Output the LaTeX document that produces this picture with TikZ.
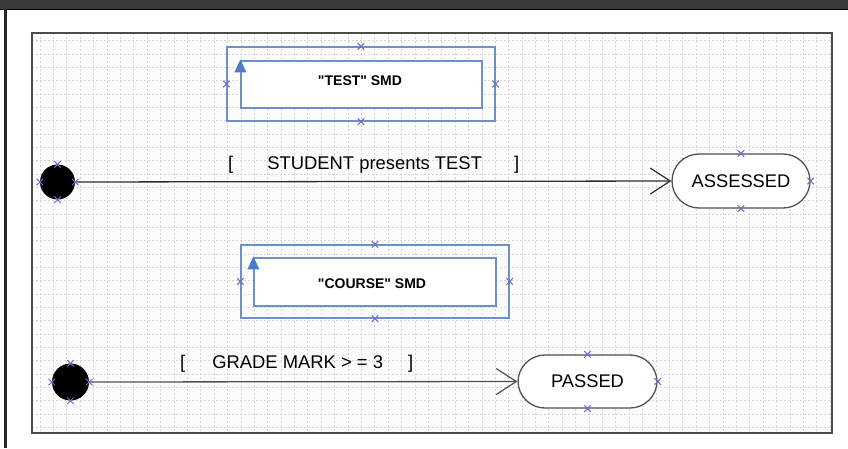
\documentclass[tikz,border=0pt]{standalone}
\usepackage{fontspec}
\setmainfont{Liberation Sans}
\usetikzlibrary{arrows.meta,shapes.misc}
\definecolor{barcol}{HTML}{3A3A3A}
\definecolor{gridcol}{HTML}{D6D6D6}
\definecolor{boxblue}{HTML}{6F8FC8}
\definecolor{triblue}{HTML}{4A7CC8}
\definecolor{mkcol}{HTML}{6E6EC4}
\definecolor{linecol}{HTML}{2E2E2E}
\definecolor{statecol}{HTML}{505050}
\tikzset{
  mk/.style={draw=mkcol,cross out,minimum size=5.5pt,inner sep=0pt,line width=1pt},
  smdouter/.style={draw=boxblue,line width=1.2pt,inner sep=0pt},
  smdinner/.style={draw=boxblue,fill=white,line width=1.2pt,inner sep=0pt},
  smdtext/.style={font=\fontsize{14}{16}\selectfont\bfseries,text=black},
  initstate/.style={circle,fill=black,inner sep=0pt},
  statebox/.style={draw=statecol,fill=white,line width=1.3pt,rounded corners=27pt,minimum width=138pt,minimum height=54pt,font=\fontsize{18.3}{20}\selectfont,text=black},
  guard/.style={font=\fontsize{18.4}{20}\selectfont,text=black,inner sep=0pt,anchor=west},
  trans/.style={draw=linecol,line width=1.3pt,-{Straight Barb[length=20pt,width=26pt,line width=1.2pt]}},
  tri/.style={fill=triblue,draw=none}
}
\begin{document}
\begin{tikzpicture}[x=1pt,y=-1pt]
\useasboundingbox (0,0) rectangle (848,448);
\fill[white] (0,0) rectangle (848,448);
% window chrome
\fill[barcol] (0,0) rectangle (848,9);
\draw[black,line width=1pt] (0,9) -- (848,9);
\fill[black!85] (4,9) rectangle (6.5,448);
% canvas
\fill[black!1] (32,33) rectangle (832,433);
\foreach \i in {0,...,59} {
  \draw[gridcol,line width=0.7pt,dash pattern=on 1.5pt off 2.5pt] ({40+13.39*\i},33) -- ({40+13.39*\i},433);
}
\foreach \j in {0,...,29} {
  \draw[gridcol,line width=0.7pt,dash pattern=on 1.5pt off 2.5pt] (32,{40.7+13.33*\j}) -- (832,{40.7+13.33*\j});
}
\draw[black!70,line width=1.1pt] (32,33) rectangle (832,433);

% TEST SMD
\node[smdouter,minimum width=268pt,minimum height=74pt] (testout) at (361,84) {};
\node[smdinner,minimum width=241pt,minimum height=47pt] (testin) at (361.5,84.5) {};
\node[smdtext] (testtxt) at (360,81) {\textquotedbl TEST\textquotedbl{} SMD};
\fill[tri] (testin.north west) ++(0,-1) -- ++(6,13) -- ++(-12,0) -- cycle;
\foreach \a in {north,south,east,west} \node[mk] at (testout.\a) {};

% COURSE SMD
\node[smdouter,minimum width=268pt,minimum height=73pt] (courseout) at (375,281.5) {};
\node[smdinner,minimum width=242pt,minimum height=48pt] (coursein) at (375,282) {};
\node[smdtext] (coursetxt) at (372,284) {\textquotedbl COURSE\textquotedbl{} SMD};
\fill[tri] (coursein.north west) ++(0,-1) -- ++(6,13) -- ++(-12,0) -- cycle;
\foreach \a in {north,south,east,west} \node[mk] at (courseout.\a) {};

% first transition
\node[initstate,minimum size=35pt] (init1) at (57.5,182) {};
\node[statebox] (assessed) at (741,181) {ASSESSED};
\draw[trans] (init1.east) -- (assessed.west);
\node[guard] (guard1) at (228,165) {[\hspace{34pt}STUDENT presents TEST\hspace{32pt}]};
\foreach \a in {north,south,east,west} \node[mk] at (init1.\a) {};
\foreach \a in {north,south,east} \node[mk] at (assessed.\a) {};

% second transition
\node[initstate,minimum size=37pt] (init2) at (70.5,382) {};
\node[statebox,minimum width=139pt,minimum height=53pt] (passed) at (587.5,381.5) {PASSED};
\draw[trans,draw=statecol] (init2.east) -- (passed.west);
\node[guard] (guard2) at (180,364) {[\hspace{27pt}GRADE MARK > = 3\hspace{25pt}]};
\foreach \a in {north,south,east,west} \node[mk] at (init2.\a) {};
\foreach \a in {north,south,east} \node[mk] at (passed.\a) {};
\end{tikzpicture}
\end{document}
